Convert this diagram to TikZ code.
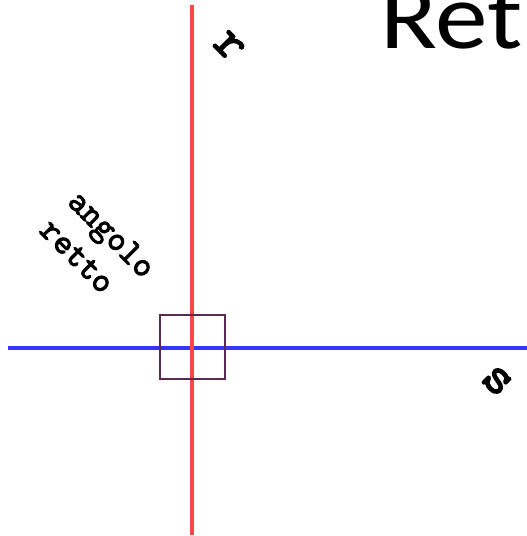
\documentclass[tikz,border=0pt]{standalone}
\usepackage{fontspec}
\newfontfamily\courfont{Latin Modern Mono}[AutoFakeBold=3]
\newfontfamily\titlefont{Carlito}
\usetikzlibrary{positioning}
\definecolor{rline}{HTML}{FF4545}
\definecolor{sline}{HTML}{3535FF}
\definecolor{sqc}{HTML}{5A2A55}

\begin{document}
\begin{tikzpicture}[x=1pt, y=-1pt,
      lbl/.style={font=\courfont\bfseries\fontsize{52}{56}\selectfont, rotate=-45, inner sep=0pt},
      note/.style={font=\courfont\bfseries\fontsize{35}{40}\selectfont, rotate=-45, align=left, inner sep=0pt}]
    \useasboundingbox (0,0) rectangle (527,536);
    \coordinate (rtop) at (192,5);
    \coordinate (rbot) at (192,535);
    \coordinate (sleft) at (8,348);
    \coordinate (sright) at (530,348);
    \draw[sline, line width=4.5pt] (sleft)--(sright);
    \draw[rline, line width=4pt] (rtop)--(rbot);
    \draw[sqc, line width=1.8pt] (160,315) rectangle (225,379);
    \node[lbl] (r) at (229,46) {r};
    \node[lbl] (s) at (497,381) {s};
    \node[note] (ang) at (98,248) {angolo\\retto};
    \node[font=\titlefont\fontsize{94}{96}\selectfont, anchor=base west, inner sep=0pt,
          xscale=1.12, transform shape] (title) at (380,48) {Ret};
  \end{tikzpicture}
\end{document}
